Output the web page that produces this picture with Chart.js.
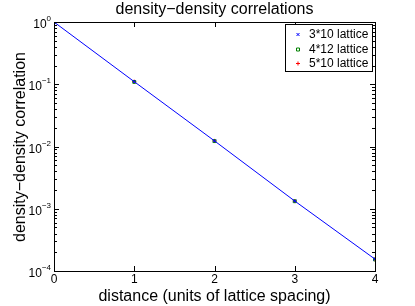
<!DOCTYPE html>
<html>
<head>
<meta charset="utf-8">
<script src="https://cdn.jsdelivr.net/npm/chart.js@4.4.1/dist/chart.umd.min.js"></script>
<style>
  html, body { margin: 0; padding: 0; background: #fff; }
  #wrap { width: 415px; height: 306px; }
</style>
</head>
<body>
<div id="wrap"><canvas id="chart" width="415" height="306"></canvas></div>
<script>
// distances along the lattice
const distances = [0, 1, 2, 3, 4];
// correlation values
const lattice3x10 = [1, 0.110, 0.0123, 0.00133, 0.000155];
const lattice4x12 = [1, 0.109, 0.0122, 0.00132, 0.000153];
const lattice5x10 = [1, 0.110, 0.0123, 0.00133, 0.000154];
const fitLine = [1, 0.110, 0.0123, 0.00133, 0.000155];

const xTicks = [0, 1, 2, 3, 4];
const yExponents = [0, -1, -2, -3, -4];
const legendLabels = ['3*10 lattice', '4*12 lattice', '5*10 lattice'];

const FONT = '"Liberation Sans", Arial, Helvetica, sans-serif';

function pts(ys) {
    return distances.map((x, i) => ({ x: x, y: ys[i] }));
}

// Matlab-style frame, ticks, labels and legend
const matlabFrame = {
    id: 'matlabFrame',
    afterDraw(chart) {
        const ctx = chart.ctx;
        const a = chart.chartArea;
        const xs = chart.scales.x;
        const ys = chart.scales.y;
        ctx.save();
        ctx.strokeStyle = '#000';
        ctx.lineWidth = 1;
        ctx.strokeRect(a.left + 0.5, a.top + 0.5, a.right - a.left, a.bottom - a.top);

        // x ticks (bottom and top)
        ctx.beginPath();
        xTicks.forEach(v => {
            const px = Math.round(xs.getPixelForValue(v)) + 0.5;
            ctx.moveTo(px, a.bottom); ctx.lineTo(px, a.bottom - 5);
            ctx.moveTo(px, a.top); ctx.lineTo(px, a.top + 5);
        });
        // y ticks, major and minor (left and right)
        yExponents.forEach(e => {
            const py = Math.round(ys.getPixelForValue(Math.pow(10, e))) + 0.5;
            ctx.moveTo(a.left, py); ctx.lineTo(a.left + 5, py);
            ctx.moveTo(a.right, py); ctx.lineTo(a.right - 5, py);
            if (e < 0) {
                for (let m = 2; m <= 9; m++) {
                    const my = Math.round(ys.getPixelForValue(m * Math.pow(10, e))) + 0.5;
                    ctx.moveTo(a.left, my); ctx.lineTo(a.left + 3, my);
                    ctx.moveTo(a.right, my); ctx.lineTo(a.right - 3, my);
                }
            }
        });
        ctx.stroke();

        ctx.fillStyle = '#000';
        // x tick labels
        ctx.font = '12px ' + FONT;
        ctx.textAlign = 'center';
        ctx.textBaseline = 'top';
        xTicks.forEach(v => {
            ctx.fillText(String(v), xs.getPixelForValue(v), a.bottom + 3);
        });
        // y tick labels 10^e
        yExponents.forEach(e => {
            const py = ys.getPixelForValue(Math.pow(10, e));
            const sup = String(e).replace('-', '\u2212');
            ctx.font = '8px ' + FONT;
            const supW = ctx.measureText(sup).width;
            ctx.textAlign = 'right';
            ctx.textBaseline = 'alphabetic';
            ctx.fillText(sup, a.left - 3, py - 1);
            ctx.font = '12px ' + FONT;
            ctx.fillText('10', a.left - 3 - supW, py + 6);
        });

        // titles
        ctx.textAlign = 'center';
        ctx.textBaseline = 'alphabetic';
        ctx.font = '16px ' + FONT;
        ctx.fillText('density\u2212density correlations', (a.left + a.right) / 2, 14);
        ctx.fillText('distance (units of lattice spacing)', (a.left + a.right) / 2, 301);
        ctx.save();
        ctx.translate(25, 147);
        ctx.rotate(-Math.PI / 2);
        ctx.fillText('density\u2212density correlation', 0, 0);
        ctx.restore();

        // legend box
        const lx = 285, ly = 24, lw = 87, lh = 47;
        ctx.fillStyle = '#fff';
        ctx.fillRect(lx, ly, lw, lh);
        ctx.strokeStyle = '#000';
        ctx.strokeRect(lx + 0.5, ly + 0.5, lw, lh);
        const sets = chart.data.datasets.slice(1);
        ctx.font = '12px ' + FONT;
        ctx.textAlign = 'left';
        ctx.textBaseline = 'middle';
        sets.forEach((ds, i) => {
            const cy = Math.round(34 + i * 14.5) + 0.5;
            ctx.strokeStyle = ds.borderColor;
            ctx.beginPath();
            if (ds.pointStyle === 'crossRot') {
                ctx.moveTo(296.5, cy - 1.5); ctx.lineTo(299.5, cy + 1.5);
                ctx.moveTo(299.5, cy - 1.5); ctx.lineTo(296.5, cy + 1.5);
            } else if (ds.pointStyle === 'rect') {
                ctx.rect(296.5, cy - 1.5, 3, 3);
            } else {
                ctx.moveTo(298, cy - 2); ctx.lineTo(298, cy + 2);
                ctx.moveTo(296, cy); ctx.lineTo(300, cy);
            }
            ctx.stroke();
            ctx.fillStyle = '#000';
            ctx.fillText(legendLabels[i], 309, cy);
        });
        ctx.restore();
    }
};

new Chart(document.getElementById('chart'), {
    type: 'scatter',
    data: {
        datasets: [
            {
                label: 'fit',
                data: pts(fitLine),
                showLine: true,
                borderColor: '#0000ff',
                borderWidth: 1,
                pointRadius: 0,
                tension: 0
            },
            {
                label: legendLabels[0],
                data: pts(lattice3x10),
                pointStyle: 'crossRot',
                pointRadius: 2,
                borderColor: '#0000ff',
                backgroundColor: 'rgba(0,0,0,0)',
                borderWidth: 1
            },
            {
                label: legendLabels[1],
                data: pts(lattice4x12),
                pointStyle: 'rect',
                pointRadius: 2,
                borderColor: '#008000',
                backgroundColor: 'rgba(0,0,0,0)',
                borderWidth: 1
            },
            {
                label: legendLabels[2],
                data: pts(lattice5x10),
                pointStyle: 'cross',
                pointRadius: 2,
                borderColor: '#ff0000',
                backgroundColor: 'rgba(0,0,0,0)',
                borderWidth: 1
            }
        ]
    },
    options: {
        responsive: false,
        animation: false,
        layout: { padding: { left: 54, right: 40, top: 22, bottom: 35 } },
        plugins: {
            legend: { display: false },
            title: { display: false },
            tooltip: { enabled: false }
        },
        scales: {
            x: { type: 'linear', min: 0, max: 4, display: false },
            y: { type: 'logarithmic', min: 1e-4, max: 1, display: false }
        }
    },
    plugins: [matlabFrame]
});
</script>
</body>
</html>
